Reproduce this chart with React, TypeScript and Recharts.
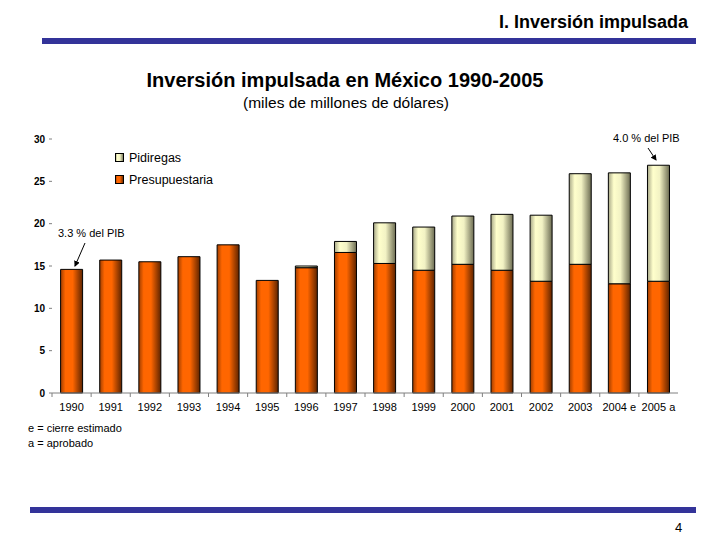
import { Bar, BarChart, XAxis, YAxis } from "recharts";

const YEARS = ["1990", "1991", "1992", "1993", "1994", "1995", "1996", "1997", "1998", "1999", "2000", "2001", "2002", "2003", "2004 e", "2005 a"];
const PRESUPUESTARIA = [14.6, 15.7, 15.5, 16.1, 17.5, 13.3, 14.8, 16.6, 15.3, 14.5, 15.2, 14.5, 13.2, 15.2, 12.9, 13.2];
const PIDIREGAS = [0, 0, 0, 0, 0, 0, 0.2, 1.3, 4.8, 5.1, 5.7, 6.6, 7.8, 10.7, 13.1, 13.7];
const Y_TICKS = [0, 5, 10, 15, 20, 25, 30];
const FOOTNOTES = ["e = cierre estimado", "a = aprobado"];

const FONT = '"Liberation Sans", Arial, sans-serif';
const NARROW = '"Liberation Sans Narrow", "Arial Narrow", "Liberation Sans", Arial, sans-serif';
const BLUE = "#333399";

const data = YEARS.map((year, i) => ({
  year,
  pres: PRESUPUESTARIA[i],
  pid: PIDIREGAS[i],
}));

function XTick(props: any) {
  const { x, y, payload } = props;
  const half = payload?.offset ?? 19.5;
  return (
    <g>
      <line x1={x - half} y1={y - 8} x2={x - half} y2={y - 4} stroke="#808080" />
      <text x={x} y={y + 10} textAnchor="middle" fontSize={11} fontFamily={NARROW} fill="#000">
        {payload.value}
      </text>
    </g>
  );
}

const LEGEND_ITEMS = [
  { label: "Pidiregas", fill: "url(#pidGrad)" },
  { label: "Presupuestaria", fill: "url(#presGrad)" },
];

export default function App() {
  return (
    <div style={{ position: "absolute", left: 0, top: 0, width: 720, height: 540, background: "#fff", fontFamily: FONT }}>
      <div style={{ position: "absolute", right: 32, top: 12, fontSize: 18, fontWeight: "bold" }}>
        I. Inversión impulsada
      </div>
      <div style={{ position: "absolute", left: 42, top: 38, width: 654, height: 6, background: BLUE }} />
      <div style={{ position: "absolute", left: 0, width: 690, top: 69, textAlign: "center", fontSize: 20, fontWeight: "bold" }}>
        Inversión impulsada en México 1990-2005
      </div>
      <div style={{ position: "absolute", left: 0, width: 692, top: 94, textAlign: "center", fontSize: 15.5 }}>
        (miles de millones de dólares)
      </div>

      <div style={{ position: "absolute", left: 0, top: 0 }}>
        <BarChart
          width={720}
          height={540}
          data={data}
          barCategoryGap="22%"
          margin={{ top: 139, right: 42, bottom: 117, left: 22 }}
        >
          <defs>
            <linearGradient id="presGrad" x1="0" y1="0" x2="1" y2="0">
              <stop offset="0%" stopColor="#a03e00" />
              <stop offset="22%" stopColor="#ff6600" />
              <stop offset="55%" stopColor="#ff6600" />
              <stop offset="100%" stopColor="#5e2400" />
            </linearGradient>
            <linearGradient id="pidGrad" x1="0" y1="0" x2="1" y2="0">
              <stop offset="0%" stopColor="#a8a888" />
              <stop offset="25%" stopColor="#ffffcc" />
              <stop offset="55%" stopColor="#f2f2c4" />
              <stop offset="100%" stopColor="#6c6c52" />
            </linearGradient>
          </defs>
          <XAxis
            dataKey="year"
            height={30}
            interval={0}
            axisLine={{ stroke: "#808080" }}
            tickLine={false}
            tick={<XTick />}
          />
          <YAxis
            width={30}
            domain={[0, 30]}
            ticks={Y_TICKS}
            interval={0}
            axisLine={false}
            tickSize={3}
            tickMargin={4}
            tickLine={{ stroke: "#808080" }}
            tick={{ fontSize: 10, fontWeight: "bold", fill: "#000", fontFamily: FONT }}
          />
          <Bar dataKey="pres" name="Presupuestaria" stackId="a" fill="url(#presGrad)" stroke="#000" strokeWidth={1} isAnimationActive={false} />
          <Bar dataKey="pid" name="Pidiregas" stackId="a" fill="url(#pidGrad)" stroke="#000" strokeWidth={1} isAnimationActive={false} />
        </BarChart>
      </div>

      <div style={{ position: "absolute", left: 115, top: 147, fontSize: 12.5 }}>
        {LEGEND_ITEMS.map((it) => (
          <div key={it.label} style={{ display: "flex", alignItems: "center", height: 22 }}>
            <svg width={10} height={10} style={{ marginRight: 4 }}>
              <rect x={0.5} y={0.5} width={8} height={8} fill={it.fill} stroke="#000" />
            </svg>
            {it.label}
          </div>
        ))}
      </div>

      <svg width={720} height={540} style={{ position: "absolute", left: 0, top: 0, pointerEvents: "none" }}>
        <defs>
          <marker id="arrow" markerWidth="6" markerHeight="6" refX="5" refY="3" orient="auto">
            <path d="M0,0 L6,3 L0,6 z" fill="#000" />
          </marker>
        </defs>
        <text x={58} y={237} fontSize={11} fontFamily={NARROW}>3.3 % del PIB</text>
        <line x1={85} y1={243} x2={75} y2={266} stroke="#000" markerEnd="url(#arrow)" />
        <text x={613} y={142} fontSize={11} fontFamily={NARROW}>4.0 % del PIB</text>
        <line x1={648} y1={148} x2={656} y2={160} stroke="#000" markerEnd="url(#arrow)" />
      </svg>

      {FOOTNOTES.map((t, i) => (
        <div key={t} style={{ position: "absolute", left: 28, top: 422 + i * 15, fontSize: 11, fontFamily: NARROW }}>
          {t}
        </div>
      ))}
      <div style={{ position: "absolute", left: 30, top: 507, width: 666, height: 6, background: BLUE }} />
      <div style={{ position: "absolute", left: 675, top: 520, fontSize: 13 }}>4</div>
    </div>
  );
}
